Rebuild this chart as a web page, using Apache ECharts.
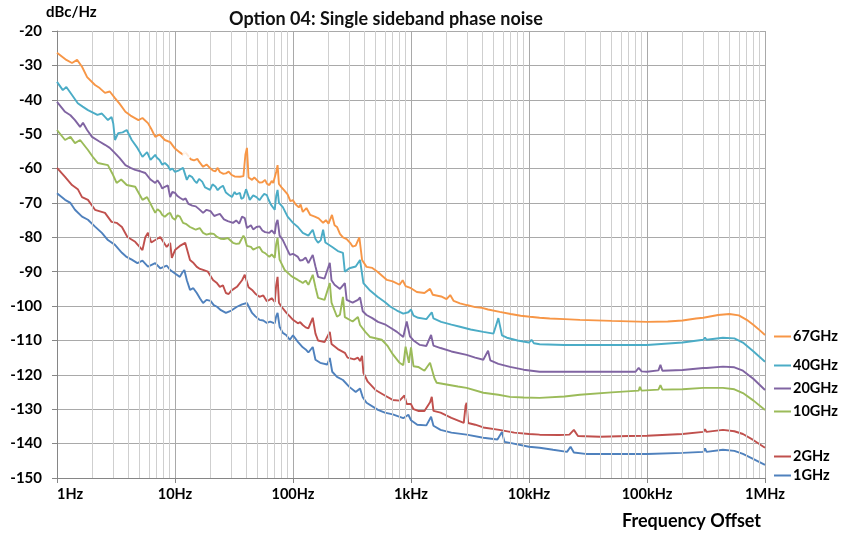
<!DOCTYPE html>
<html>
<head>
<meta charset="utf-8">
<script src="https://cdn.jsdelivr.net/npm/echarts@6/dist/echarts.min.js"></script>
<style>
html,body{margin:0;padding:0;background:#fff;}
#chart{width:842px;height:535px;}
</style>
</head>
<body>
<div id="chart"></div>
<script>
const seriesNames = ['67GHz','40GHz','20GHz','10GHz','2GHz','1GHz'];
const xTickLabels = ['1Hz','10Hz','100Hz','1kHz','10kHz','100kHz','1MHz'];

const s67 = [[1,-26.3],[1.2,-28.4],[1.34,-29.3],[1.48,-28.4],[1.63,-30.4],[1.8,-33.4],[2.1,-35.7],[2.3,-36.6],[2.55,-38],[2.8,-37.6],[3.1,-39.5],[3.4,-41.2],[3.8,-43.5],[4.2,-44.6],[4.9,-45.9],[5.3,-45.3],[5.9,-46.8],[6.3,-48.5],[6.8,-50.8],[7.4,-50.1],[8.2,-51.7],[9.1,-52.3],[10,-54.2],[11,-55.3],[11.7,-56],[12.2,-55.2],[13,-56.4],[13.6,-57.3],[14.5,-57.6],[15.5,-57.2],[16,-58],[17.3,-59.5],[18.5,-58.8],[20,-60],[21,-60.6],[22,-60.8],[23,-59.8],[24,-61],[25.5,-61.5],[27,-61.4],[28.5,-60.9],[30,-61.8],[32,-62.3],[35.5,-62.4],[38,-62.2],[39.5,-56],[40.7,-54],[42,-62.6],[45,-63.3],[47,-62.6],[50,-63.5],[52,-64.1],[55,-64],[58,-63.3],[60,-64.4],[63,-64.8],[66,-63.6],[68,-64.2],[72,-61],[74,-59],[76,-64.5],[80,-65.5],[85,-66.5],[90,-67.5],[95,-69.5],[100,-69.2],[105,-70.4],[112,-71.3],[116,-70.5],[121,-72.6],[130,-71.5],[140,-73.5],[153,-74],[165,-74.5],[180,-75.8],[190,-75],[200,-76],[214,-73.5],[225,-76.5],[236,-77],[250,-79],[265,-80],[285,-80.5],[305,-81.6],[320,-82.7],[340,-82.4],[365,-80],[385,-86.6],[420,-88.6],[470,-88.9],[520,-90],[625,-92.4],[700,-92.8],[800,-93.8],[850,-92.5],[900,-94.2],[1000,-94.8],[1120,-95.9],[1300,-96.2],[1450,-95],[1530,-96.7],[1800,-97.2],[2000,-98],[2150,-96.8],[2300,-98.5],[2600,-99.2],[2960,-99.7],[3500,-100.3],[4000,-100.5],[4500,-101],[5650,-101.7],[7000,-102.3],[8500,-102.8],[10200,-103.1],[12300,-103.4],[15000,-103.6],[20000,-103.8],[27000,-104],[50000,-104.3],[100000,-104.6],[150000,-104.5],[200000,-104.2],[260000,-103.6],[300000,-103.4],[400000,-102.6],[500000,-102.3],[600000,-102.7],[620000,-102.9],[700000,-104],[800000,-105.5],[900000,-107],[1000000,-108.4]];

const s40 = [[1,-34.8],[1.12,-37.2],[1.2,-36.3],[1.34,-38.6],[1.5,-41],[1.65,-42],[1.83,-43],[2.2,-44.4],[2.4,-44],[2.55,-45],[2.7,-45.9],[2.9,-45],[3,-47],[3.1,-51.7],[3.3,-49.7],[3.6,-49.5],[3.9,-48.8],[4.3,-51.7],[4.8,-54],[5.3,-56.6],[5.8,-55.2],[6.2,-57.5],[6.8,-56],[7,-56.8],[7.4,-57.5],[7.8,-58.9],[8.2,-58.4],[8.7,-59.2],[9.1,-60.4],[9.5,-60],[10,-61],[10.8,-60.5],[11.7,-59.8],[12.6,-63.3],[13.2,-62],[14,-62.5],[14.6,-63.5],[15.3,-64.2],[16,-63],[17,-63.8],[18,-65.5],[19.8,-66.2],[20.8,-64.6],[22,-65.2],[23,-66.3],[24,-65.6],[25.5,-65],[27,-67],[28.5,-67.6],[30.4,-68.3],[32,-66.8],[33,-67.5],[35.5,-67.1],[36.5,-68.8],[38,-68.5],[40,-66],[43,-69.1],[46,-67.8],[49,-68.3],[52,-69.2],[55,-68],[57,-67.4],[60,-67.7],[62,-69],[65,-70.5],[70,-72],[72,-68],[74,-66.2],[76,-70],[82,-71.2],[90,-74],[100,-75.8],[110,-77],[121,-78.7],[135,-79.5],[147,-77.8],[155,-80.5],[163,-81.6],[172,-80.8],[180,-77.8],[188,-81.5],[215,-82.8],[240,-84],[265,-84.5],[275,-90],[300,-89],[340,-88.5],[370,-86.6],[395,-93.3],[450,-95.5],[520,-97.3],[600,-98.8],[670,-100.2],[760,-101.3],[860,-102.2],[950,-101.8],[1000,-101],[1050,-102.8],[1150,-103.4],[1350,-103.8],[1500,-101.8],[1550,-103.6],[1800,-104.6],[2200,-105.4],[2600,-106],[3200,-106.8],[4100,-107.5],[5000,-108],[5500,-103.5],[5650,-103.1],[5900,-108.5],[6500,-109.2],[8000,-110],[10000,-110.6],[10500,-109.8],[11000,-110.8],[12300,-111.1],[20000,-111.3],[50000,-111.3],[100000,-111.3],[200000,-110.6],[300000,-109.8],[310000,-109.2],[320000,-109.8],[440000,-109.2],[550000,-109.4],[650000,-110.6],[800000,-113.2],[1000000,-116.2]];

const s20 = [[1,-40.6],[1.17,-43.5],[1.3,-44.5],[1.42,-45.9],[1.57,-47.9],[1.66,-46.7],[1.8,-48.8],[1.98,-50.8],[2.25,-52],[2.55,-53.1],[2.8,-54],[3.1,-55.5],[3.4,-57],[3.8,-59],[4.2,-59.8],[4.6,-60.4],[5.1,-60.8],[5.6,-61.3],[6.2,-63.2],[6.8,-64.2],[7.1,-63.4],[7.5,-64.6],[7.8,-65.8],[8.2,-65.3],[8.7,-64.9],[9.1,-68.3],[9.5,-66.8],[10,-67.1],[10.5,-68],[11,-68.5],[11.7,-69.1],[12.3,-68.7],[13,-70.3],[14,-70.8],[15,-71],[16,-71.8],[17.3,-72.9],[18.5,-72],[20,-72.4],[21.5,-73.8],[22.7,-73.5],[24,-73.2],[26,-74.8],[28,-75.3],[31,-75.8],[33,-75.1],[35,-76],[37,-74],[39,-74.4],[40.7,-77.3],[44,-76.5],[46,-77.7],[49,-77],[52,-76.8],[55,-78],[58,-78.5],[63,-78.7],[66,-78],[70,-79],[72,-76],[74,-74.9],[77,-79.5],[82,-80.8],[94,-85.1],[100,-84.8],[110,-85.7],[115,-86.8],[121,-86.6],[128,-85.9],[135,-87.5],[147,-85.1],[155,-88.5],[163,-91.5],[185,-92],[205,-87.4],[212,-92.5],[225,-93.8],[250,-95],[275,-93.3],[285,-98.2],[320,-99],[355,-98.2],[370,-97.5],[390,-101.5],[420,-102.6],[470,-103.5],[525,-104.6],[600,-105.3],[670,-106.3],[760,-107.5],[860,-109],[920,-104.5],[940,-104.9],[980,-108.8],[1050,-110],[1190,-111.3],[1350,-111.6],[1480,-108.4],[1550,-111.5],[1780,-112.2],[2200,-113.2],[2960,-114.2],[3500,-115],[4100,-115.6],[4500,-113],[4700,-115.8],[5500,-116.8],[6900,-117.7],[9000,-118.5],[12300,-119.1],[20000,-119.1],[40000,-119.1],[80000,-119.1],[85000,-118],[90000,-119],[100000,-119.1],[125000,-118.7],[130000,-117.1],[135000,-118.8],[200000,-118.6],[300000,-118],[310000,-117.5],[320000,-118],[440000,-117.6],[550000,-117.8],[650000,-118.8],[800000,-121.2],[1000000,-124.4]];

const s10 = [[1,-48.8],[1.17,-51.7],[1.3,-50.8],[1.42,-52.6],[1.57,-51.7],[1.83,-54.6],[2,-56.5],[2.22,-58.4],[2.7,-59],[2.95,-61.5],[3.2,-64.2],[3.5,-63.2],[3.9,-64.8],[4.6,-65.3],[5.3,-69.1],[5.8,-68.3],[6.8,-72.9],[7.1,-71.8],[7.5,-72.5],[7.8,-73.5],[8.2,-74],[8.7,-73.2],[9.1,-72.9],[9.5,-74.3],[10,-74.9],[10.5,-73.6],[11,-74],[11.7,-75.8],[12.5,-76.2],[13.4,-77],[14.2,-77.4],[15,-77.8],[16.2,-77.3],[17.3,-78.7],[18.5,-79.2],[20,-78.9],[21.3,-79],[22.7,-79.9],[24.3,-80.4],[26,-80.5],[28,-80.2],[31,-81.6],[33,-81.9],[35,-81.8],[38,-79.5],[39,-80.2],[40.7,-82.5],[44,-82.8],[46,-83.6],[49,-83.1],[52,-82.8],[55,-84.2],[58,-84.6],[63,-85.7],[66,-85],[70,-86],[72,-82],[74,-80.2],[77,-86.5],[85,-89.5],[95,-91],[100,-91.6],[110,-92.4],[115,-92.8],[121,-93.3],[128,-92.6],[135,-93.8],[147,-90.9],[155,-94.5],[163,-97.6],[185,-98.2],[205,-93.3],[212,-99],[236,-103.1],[250,-102.5],[265,-97.3],[275,-103.2],[320,-104.5],[355,-103.2],[370,-105.5],[410,-107.5],[450,-109],[520,-109.5],[565,-109.8],[630,-111.5],[700,-114],[800,-116.5],[860,-117.2],[900,-111.8],[920,-111.3],[960,-116.5],[1000,-112],[1050,-117.5],[1150,-117.7],[1300,-118.8],[1450,-116.5],[1500,-116.2],[1580,-121],[1650,-122.3],[2000,-122.8],[2500,-123.4],[2960,-123.8],[4100,-125.2],[5500,-125.8],[6900,-126.4],[9000,-126.6],[12300,-126.7],[20000,-126.3],[27000,-125.8],[50000,-125.1],[85000,-124.6],[87000,-123.5],[90000,-124.6],[125000,-124.3],[130000,-123],[135000,-124.3],[200000,-124.2],[300000,-123.8],[310000,-123.3],[320000,-123.8],[440000,-123.8],[550000,-124.2],[650000,-125.3],[800000,-127.5],[1000000,-130.2]];

const s2 = [[1,-59.8],[1.17,-62.4],[1.34,-64.8],[1.5,-66],[1.63,-68.3],[1.83,-69.1],[2.1,-72],[2.55,-72.9],[2.9,-75.5],[3.2,-75.8],[3.55,-77],[3.95,-79.9],[4.6,-81.3],[5.3,-83.7],[5.6,-80],[5.9,-78.7],[6.3,-81.5],[6.8,-80.8],[7.5,-79.9],[8.5,-82.8],[9.1,-81.6],[9.4,-86],[10,-83.7],[11,-82.5],[12.2,-81.6],[13.4,-86.6],[14.2,-87.3],[15.3,-88.6],[16.3,-89.2],[17.3,-89.5],[19,-90],[21,-92.4],[22.5,-93.2],[24,-94.4],[25.5,-94],[27,-96.2],[28.5,-96.5],[30,-95.5],[31.5,-95],[33.5,-94.4],[37,-92.5],[39,-90.9],[42,-94.5],[45,-95.3],[48,-96.4],[52,-97.3],[56,-96.9],[60,-98.6],[63,-98.2],[66,-97.7],[70,-98.8],[72,-94],[74,-91.5],[76,-99],[80,-100.2],[88,-102],[94,-103],[100,-104],[110,-105],[115,-104.7],[121,-105.5],[128,-106.2],[135,-106.5],[147,-103.4],[155,-108],[163,-110],[185,-110.5],[205,-107.5],[212,-111],[240,-112.5],[275,-113.6],[290,-115],[330,-115.5],[355,-115],[370,-116],[385,-114.5],[395,-119.4],[430,-122],[500,-124.4],[600,-126],[700,-127.3],[800,-127.5],[880,-126],[920,-128.5],[1000,-128.5],[1050,-130],[1150,-130.5],[1300,-130.5],[1450,-128],[1500,-126.4],[1550,-130.5],[1780,-131],[2200,-132.5],[2800,-134],[2900,-129],[2960,-128.1],[3050,-134],[3500,-134.5],[4100,-135.3],[5600,-136],[7500,-136.8],[10000,-137.2],[12300,-137.4],[18000,-137.5],[22000,-137.4],[24000,-136],[26000,-137.8],[40000,-138],[70000,-137.8],[100000,-137.7],[200000,-137.2],[300000,-136.6],[310000,-135.8],[320000,-136.6],[440000,-136],[550000,-136.4],[650000,-137.2],[800000,-139],[1000000,-141.2]];

const s1 = [[1,-67.2],[1.17,-69.1],[1.3,-70],[1.42,-72],[1.63,-74],[1.83,-74.9],[2.1,-76.9],[2.4,-78.7],[2.7,-80.8],[3.1,-82.2],[3.55,-84.5],[3.85,-85.6],[4.3,-86.5],[4.8,-87.5],[5.3,-86.8],[5.9,-88.5],[6.8,-87.5],[7.5,-89],[8.5,-88.2],[9.1,-89.5],[10,-90.5],[11,-91.5],[11.5,-90.3],[12,-89.5],[12.6,-92.5],[13.4,-95.3],[14.3,-94.8],[15.3,-96.2],[16.3,-97.8],[17.3,-99.1],[18.5,-98.2],[20,-98.5],[21.3,-99.7],[22.7,-100.2],[24.5,-101.2],[27,-102],[30,-101.3],[33.5,-100.2],[37,-99.5],[40.7,-99.1],[45,-102],[48,-103],[52,-104],[56,-104.2],[60,-104.9],[64,-104.5],[70,-105],[72,-103],[74,-102],[77,-106],[82,-107.8],[88,-108.5],[94,-109.8],[100,-108.5],[110,-110.4],[121,-112],[128,-112.6],[135,-113.5],[147,-111.9],[155,-115.6],[170,-116.5],[195,-117],[205,-115.1],[215,-119.1],[236,-120.6],[265,-121.5],[275,-121.8],[300,-123.5],[340,-125],[370,-124],[390,-126.5],[420,-128.1],[525,-130.2],[600,-131],[700,-131.5],[860,-132.6],[950,-131.6],[1000,-133.2],[1130,-134.5],[1350,-134.7],[1480,-132.2],[1550,-134.8],[1780,-136],[2200,-136.8],[2960,-137.4],[4100,-138.3],[5400,-138.8],[5900,-136.6],[6200,-139.5],[6900,-139.8],[10000,-140.9],[12300,-141.2],[16000,-141.8],[21000,-142.4],[22500,-140.9],[24000,-142.6],[30000,-143],[60000,-143],[100000,-143],[200000,-142.7],[300000,-142.4],[310000,-141.4],[320000,-142.4],[440000,-141.8],[550000,-142.1],[650000,-143],[800000,-144.5],[1000000,-146.2]];

const markerPt = [[12.6,-56]];

const seriesData = [s67, s40, s20, s10, s2, s1];
const colors = ['#F79646','#4BACC6','#8064A2','#9BBB59','#C0504D','#4F81BD'];
const legendCenters = [333, 362, 385, 408, 453, 472];

const FONT = 'Lato, "Open Sans", sans-serif';

// minor vertical grid lines at 2..9 x each decade
const minorLines = [];
for (let d = 0; d < 6; d++) {
  for (let m = 2; m <= 9; m++) minorLines.push({ xAxis: m * Math.pow(10, d) });
}

const chart = echarts.init(document.getElementById('chart'), null, { renderer: 'canvas' });

const series = [{
  type: 'line',
  name: '_grid',
  data: [],
  silent: true,
  z: 1,
  markLine: {
    silent: true,
    symbol: ['none', 'none'],
    animation: false,
    label: { show: false },
    lineStyle: { color: '#cfcfcf', width: 1, type: 'solid' },
    emphasis: { disabled: true },
    data: minorLines
  }
}];

seriesNames.forEach((n, i) => {
  series.push({
    type: 'line',
    name: n,
    data: seriesData[i],
    showSymbol: false,
    symbol: 'none',
    z: 3 + (5 - i),
    lineStyle: { width: 1.9, color: colors[i] },
    itemStyle: { color: colors[i] },
    animation: false
  });
});

series.push({
  type: 'scatter',
  name: '_marker',
  data: markerPt,
  symbol: 'emptyCircle',
  symbolSize: 7,
  z: 20,
  itemStyle: { color: '#fff', borderColor: '#7AA6D4', borderWidth: 1.2 },
  animation: false
});

const legends = seriesNames.map((n, i) => ({
  data: [n],
  left: 769,
  top: legendCenters[i] - 9,
  icon: 'rect',
  itemWidth: 17,
  itemHeight: 2,
  itemGap: 4,
  selectedMode: false,
  textStyle: { fontFamily: FONT, fontWeight: 'bold', fontSize: 14.5, color: '#000', padding: [0, 0, 0, -3] }
}));

chart.setOption({
  backgroundColor: '#fff',
  animation: false,
  title: {
    text: 'Option 04: Single sideband phase noise',
    left: 381,
    textAlign: 'center',
    top: 5,
    textStyle: { fontFamily: FONT, fontWeight: 'bold', fontSize: 18, color: '#111' }
  },
  legend: legends,
  grid: { left: 57, right: 77, top: 31, bottom: 57, containLabel: false },
  xAxis: {
    type: 'log',
    logBase: 10,
    min: 1,
    max: 1000000,
    axisLine: { show: true, lineStyle: { color: '#868686', width: 1 } },
    axisTick: { show: true, length: 5, lineStyle: { color: '#868686' } },
    axisLabel: {
      fontFamily: FONT, fontWeight: 'bold', fontSize: 14.5, color: '#000', margin: 9,
      alignMinLabel: 'left',
      formatter: v => xTickLabels[Math.round(Math.log10(v))]
    },
    splitLine: { show: true, lineStyle: { color: '#a9a9a9', width: 1 } },
    minorTick: { show: false },
    minorSplitLine: { show: false }
  },
  yAxis: {
    type: 'value',
    min: -150,
    max: -20,
    interval: 10,
    axisLine: { show: true, lineStyle: { color: '#868686', width: 1 } },
    axisTick: { show: true, length: 5, lineStyle: { color: '#868686' } },
    axisLabel: { fontFamily: FONT, fontWeight: 'bold', fontSize: 15, color: '#000', margin: 15 },
    splitLine: { show: true, lineStyle: { color: '#a9a9a9', width: 1 } }
  },
  graphic: [
    { type: 'text', left: 46, top: 5, style: { text: 'dBc/Hz', fontFamily: FONT, fontWeight: 'bold', fontSize: 15, fill: '#000' } },
    { type: 'text', left: 622, top: 512, style: { text: 'Frequency Offset', fontFamily: FONT, fontWeight: 'bold', fontSize: 18, fill: '#000' } }
  ],
  series: series
});
</script>
</body>
</html>
